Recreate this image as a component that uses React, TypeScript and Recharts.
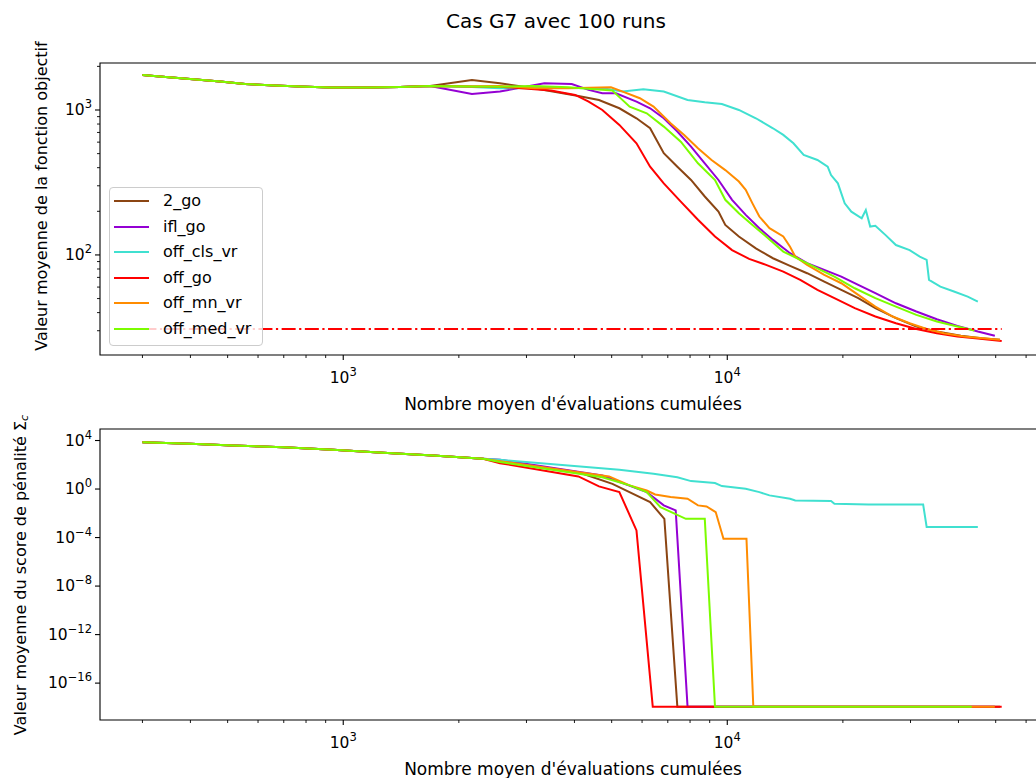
import { LineChart, Line, XAxis, YAxis, Legend, ReferenceArea } from "recharts";

const SERIES_NAMES = ["2_go", "ifl_go", "off_cls_vr", "off_go", "off_mn_vr", "off_med_vr"];
const SERIES_COLORS = ["#8b4513", "#9400d3", "#40e0d0", "#ff0000", "#ff8c00", "#7cfc00"];

// --- objective function (top plot) ---
const EARLY_X = [300, 333, 399, 478, 555, 664, 771, 923, 1174, 1405, 1683];
const EARLY_OBJ = [1742, 1702, 1637, 1573, 1511, 1475, 1452, 1429, 1429, 1442, 1465];

const X_2GO = [2163, 2559, 3140, 4096, 4633, 5236, 5802, 6296, 6834, 7413, 8047, 8738, 9485, 9882, 10720, 11870, 13150, 14570, 16140, 17890, 19810, 21930, 24300, 27490, 31070, 35130, 40570, 45850, 51300];
const OBJ_2GO = [1611, 1528, 1412, 1250, 1173, 1028, 877, 748, 503, 406, 329, 253, 199, 161, 134, 111, 94.9, 84.0, 74.8, 65.5, 57.4, 50.3, 42.9, 36.6, 32.1, 29.6, 27.7, 26.6, 26.0];

const X_IFL = [2163, 2559, 3339, 3936, 4355, 4728, 5130, 5802, 6296, 6834, 7413, 8047, 8738, 9485, 10290, 11170, 12120, 13150, 14570, 16140, 17890, 19810, 21930, 24300, 27490, 31070, 35130, 39740, 44920, 49740];
const OBJ_IFL = [1289, 1340, 1528, 1511, 1376, 1304, 1304, 1143, 1028, 877, 710, 559, 429, 329, 240, 189, 153, 127, 102.8, 87.7, 78.8, 70.9, 62.1, 54.5, 46.4, 40.7, 36.0, 32.4, 29.6, 27.7];

const X_CLS = [2163, 2559, 3140, 3853, 4728, 5343, 6045, 6834, 7881, 8738, 9682, 10720, 11870, 13150, 13990, 14870, 15810, 17170, 18260, 18630, 19410, 20220, 21040, 22390, 22950, 23560, 24300, 25840, 27490, 29840, 31710, 33050, 33520, 35880, 38930, 42270, 44920];
const OBJ_CLS = [1440, 1412, 1420, 1420, 1412, 1340, 1391, 1340, 1173, 1130, 1101, 1001, 877, 748, 673, 589, 490, 452, 406, 356, 312, 227, 199, 179, 204, 157, 159, 137, 117, 108, 97.5, 92.5, 67.3, 60.5, 55.9, 51.6, 47.7];

const X_GO = [2163, 2559, 3477, 4017, 4355, 4728, 5236, 5802, 6296, 6834, 7567, 8389, 9290, 10290, 11400, 12620, 13990, 15490, 17170, 19010, 21480, 24300, 27490, 31070, 35130, 39740, 44920, 51830];
const OBJ_GO = [1452, 1449, 1361, 1270, 1143, 1001, 789, 589, 406, 312, 233, 175, 134, 108, 93.9, 85.4, 76.8, 67.3, 57.4, 50.3, 42.9, 37.6, 33.8, 30.8, 28.8, 27.4, 26.5, 25.5];

const X_MN = [2163, 2559, 3140, 3853, 4979, 5343, 5922, 6427, 7118, 7722, 8389, 9100, 9882, 10720, 11170, 11630, 12120, 12880, 13990, 14570, 15030, 16140, 17890, 19810, 21930, 24300, 26940, 29840, 33050, 36630, 41410, 48720, 51300];
const OBJ_MN = [1452, 1465, 1412, 1412, 1434, 1340, 1205, 1055, 810, 673, 545, 452, 385, 321, 281, 227, 184, 153, 134, 114, 97.5, 85.4, 72.8, 63.8, 53.0, 44.0, 37.6, 33.8, 30.8, 28.8, 27.4, 26.3, 26.0];

const X_MED = [2163, 2559, 3140, 3853, 5023, 5569, 6170, 6834, 7567, 8389, 9290, 9882, 10720, 11630, 12620, 13990, 15490, 17170, 19010, 21480, 24300, 27490, 31070, 35130, 39740, 44000];
const OBJ_MED = [1452, 1449, 1465, 1434, 1361, 1055, 949, 768, 605, 429, 329, 240, 194, 161, 134, 105.5, 92.5, 80.9, 70.9, 58.9, 50.3, 44.0, 38.6, 34.7, 32.1, 30.1];

const REF_X = [300, 51830];
const REF_OBJ = [30.8, 30.8];

// --- penalty score (bottom plot) ---
const EARLY_PEN_X = [300, 399, 516, 698, 940, 1271, 1714, 2312];
const EARLY_PEN = [7240, 5370, 3890, 2820, 1700, 977, 589, 309];

const PX_2GO = [2559, 4096, 5023, 6296, 6858, 7413, 51300];
const PEN_2GO = [200, 24.5, 2.7, 0.083, 3.5e-3, 1.1e-18, 1.1e-18];

const PX_IFL = [2559, 4728, 6170, 6834, 7340, 7881, 49740];
const PEN_IFL = [257, 13.2, 0.56, 0.045, 0.0174, 1.1e-18, 1.1e-18];

const PX_CLS = [2559, 5236, 6427, 7413, 8047, 9290, 9682, 11170, 12120, 12880, 14570, 15030, 18630, 19010, 23330, 32360, 33050, 44920];
const PEN_CLS = [257, 39, 18.2, 9.5, 4.5, 3.1, 1.74, 1.05, 0.56, 0.3, 0.16, 0.115, 0.102, 0.062, 0.054, 0.054, 7.4e-4, 7.4e-4];

const PX_GO = [2559, 4096, 4633, 5236, 5802, 6397, 51830];
const PEN_GO = [136, 10.9, 1.64, 0.56, 3.9e-4, 1.1e-18, 1.1e-18];

const PX_MN = [2559, 4924, 5569, 6170, 6490, 7118, 7881, 8389, 8830, 9330, 9775, 11220, 11690, 49740];
const PEN_MN = [200, 11, 2.0, 0.76, 0.36, 0.22, 0.16, 0.045, 0.037, 0.0126, 8.1e-5, 8.1e-5, 1.1e-18, 1.1e-18];

const PX_MED = [2559, 4728, 5569, 6170, 6700, 7800, 8738, 9290, 43300];
const PEN_MED = [166, 9.5, 2.0, 0.56, 0.032, 3.5e-3, 3.5e-3, 1.1e-18, 1.1e-18];

// axis ranges and ticks
const X_DOMAIN = [232.6, 67600];
const OBJ_DOMAIN = [20.4, 2110];
const PEN_DOMAIN = [9.1e-20, 8.9e4];
const X_TICKS = [300, 400, 500, 600, 700, 800, 900, 1000, 2000, 3000, 4000, 5000, 6000, 7000, 8000, 9000, 10000, 20000, 30000, 40000, 50000, 60000];
const OBJ_TICKS = [30, 40, 50, 60, 70, 80, 90, 100, 200, 300, 400, 500, 600, 700, 800, 900, 1000, 2000];
const PEN_TICKS = [1e-16, 1e-12, 1e-8, 1e-4, 1, 1e4];

const FONT = "DejaVu Sans";

function toPoints(xs: number[], ys: number[]) {
  return xs.map((x, i) => ({ x, y: ys[i] }));
}

const TOP_SERIES = [
  toPoints([...EARLY_X, ...X_2GO], [...EARLY_OBJ, ...OBJ_2GO]),
  toPoints([...EARLY_X, ...X_IFL], [...EARLY_OBJ, ...OBJ_IFL]),
  toPoints([...EARLY_X, ...X_CLS], [...EARLY_OBJ, ...OBJ_CLS]),
  toPoints([...EARLY_X, ...X_GO], [...EARLY_OBJ, ...OBJ_GO]),
  toPoints([...EARLY_X, ...X_MN], [...EARLY_OBJ, ...OBJ_MN]),
  toPoints([...EARLY_X, ...X_MED], [...EARLY_OBJ, ...OBJ_MED]),
];

const BOTTOM_SERIES = [
  toPoints([...EARLY_PEN_X, ...PX_2GO], [...EARLY_PEN, ...PEN_2GO]),
  toPoints([...EARLY_PEN_X, ...PX_IFL], [...EARLY_PEN, ...PEN_IFL]),
  toPoints([...EARLY_PEN_X, ...PX_CLS], [...EARLY_PEN, ...PEN_CLS]),
  toPoints([...EARLY_PEN_X, ...PX_GO], [...EARLY_PEN, ...PEN_GO]),
  toPoints([...EARLY_PEN_X, ...PX_MN], [...EARLY_PEN, ...PEN_MN]),
  toPoints([...EARLY_PEN_X, ...PX_MED], [...EARLY_PEN, ...PEN_MED]),
];

function isMajor(v: number) {
  const l = Math.log10(v);
  return Math.abs(l - Math.round(l)) < 1e-9;
}

function expText(v: number) {
  const e = Math.round(Math.log10(v));
  return e < 0 ? "\u2212" + Math.abs(e) : String(e);
}

function XTick(props: any) {
  const { x, y, payload } = props;
  const major = isMajor(payload.value);
  return (
    <g>
      <line x1={x} x2={x} y1={y} y2={y + (major ? 5 : 3)} stroke="#000" strokeWidth={major ? 1.1 : 0.9} />
      {major && (
        <text x={x} y={y + 28} textAnchor="middle" fontSize={15.5} fontFamily={FONT} fill="#000">
          <tspan>10</tspan>
          <tspan dy={-7} fontSize={11.5}>{expText(payload.value)}</tspan>
        </text>
      )}
    </g>
  );
}

function YTick(props: any) {
  const { x, y, payload } = props;
  const major = isMajor(payload.value);
  return (
    <g>
      <line x1={x - (major ? 5 : 3)} x2={x} y1={y} y2={y} stroke="#000" strokeWidth={major ? 1.1 : 0.9} />
      {major && (
        <text x={x - 8} y={y + 5} textAnchor="end" fontSize={15.5} fontFamily={FONT} fill="#000">
          <tspan>10</tspan>
          <tspan dy={-7} fontSize={11.5}>{expText(payload.value)}</tspan>
        </text>
      )}
    </g>
  );
}

function LegendBox() {
  return (
    <div
      style={{
        width: 154,
        height: 159,
        boxSizing: "border-box",
        border: "1px solid #cccccc",
        borderRadius: 4,
        background: "rgba(255,255,255,0.8)",
        position: "relative",
        fontFamily: FONT,
      }}
    >
      {SERIES_NAMES.map((name, i) => (
        <div
          key={name}
          style={{ position: "absolute", left: 0, top: 13 + 25.6 * i - 12, height: 24, display: "flex", alignItems: "center" }}
        >
          <div style={{ marginLeft: 4, width: 35, height: 2, background: SERIES_COLORS[i] }} />
          <span style={{ marginLeft: 14, fontSize: 16, lineHeight: "24px", color: "#000", whiteSpace: "nowrap" }}>{name}</span>
        </div>
      ))}
    </div>
  );
}

export default function App() {
  return (
    <div style={{ position: "fixed", left: 0, top: 0, width: 1036, height: 778, overflow: "hidden", background: "#fff" }}>
      <div style={{ position: "absolute", left: 0, top: 0 }}>
        <LineChart width={1100} height={400} margin={{ top: 63, right: 54, left: 40, bottom: 0 }}>
          <ReferenceArea x1={X_DOMAIN[0]} x2={X_DOMAIN[1]} y1={OBJ_DOMAIN[0]} y2={OBJ_DOMAIN[1]} fill="none" stroke="#000" strokeWidth={1.1} fillOpacity={0} />
          <XAxis
            dataKey="x"
            type="number"
            scale="log"
            domain={X_DOMAIN}
            allowDataOverflow
            ticks={X_TICKS}
            interval={0}
            height={45}
            axisLine={false}
            tickLine={false}
            tickSize={0}
            tickMargin={0}
            tick={<XTick />}
          />
          <YAxis
            type="number"
            scale="log"
            domain={OBJ_DOMAIN}
            allowDataOverflow
            ticks={OBJ_TICKS}
            interval={0}
            width={60}
            axisLine={false}
            tickLine={false}
            tickSize={0}
            tickMargin={0}
            tick={<YTick />}
          />
          {TOP_SERIES.map((pts, i) => (
            <Line
              key={SERIES_NAMES[i]}
              data={pts}
              dataKey="y"
              type="linear"
              stroke={SERIES_COLORS[i]}
              strokeWidth={2}
              dot={false}
              activeDot={false}
              isAnimationActive={false}
            />
          ))}
          <Line
            data={toPoints(REF_X, REF_OBJ)}
            dataKey="y"
            type="linear"
            stroke="#ff0000"
            strokeWidth={2}
            strokeDasharray="14 3.5 2.2 3.5"
            dot={false}
            activeDot={false}
            isAnimationActive={false}
          />
          <Legend
            layout="vertical"
            align="center"
            verticalAlign="middle"
            wrapperStyle={{ left: 109, top: 187, width: "auto" }}
            content={() => <LegendBox />}
          />
        </LineChart>
      </div>

      <div style={{ position: "absolute", left: 0, top: 400 }}>
        <LineChart width={1100} height={378} margin={{ top: 29, right: 54, left: 40, bottom: 0 }}>
          <ReferenceArea x1={X_DOMAIN[0]} x2={X_DOMAIN[1]} y1={PEN_DOMAIN[0]} y2={PEN_DOMAIN[1]} fill="none" stroke="#000" strokeWidth={1.1} fillOpacity={0} />
          <XAxis
            dataKey="x"
            type="number"
            scale="log"
            domain={X_DOMAIN}
            allowDataOverflow
            ticks={X_TICKS}
            interval={0}
            height={58}
            axisLine={false}
            tickLine={false}
            tickSize={0}
            tickMargin={0}
            tick={<XTick />}
          />
          <YAxis
            type="number"
            scale="log"
            domain={PEN_DOMAIN}
            allowDataOverflow
            ticks={PEN_TICKS}
            interval={0}
            width={60}
            axisLine={false}
            tickLine={false}
            tickSize={0}
            tickMargin={0}
            tick={<YTick />}
          />
          {BOTTOM_SERIES.map((pts, i) => (
            <Line
              key={SERIES_NAMES[i]}
              data={pts}
              dataKey="y"
              type="linear"
              stroke={SERIES_COLORS[i]}
              strokeWidth={2}
              dot={false}
              activeDot={false}
              isAnimationActive={false}
            />
          ))}
        </LineChart>
      </div>

      <svg width={1036} height={778} style={{ position: "absolute", left: 0, top: 0, pointerEvents: "none" }} fontFamily={FONT}>
        <text x={556} y={28} textAnchor="middle" fontSize={20} fill="#000">Cas G7 avec 100 runs</text>
        <text x={573} y={410} textAnchor="middle" fontSize={17} fill="#000">Nombre moyen d'évaluations cumulées</text>
        <text x={573} y={775} textAnchor="middle" fontSize={17} fill="#000">Nombre moyen d'évaluations cumulées</text>
        <text transform="translate(41 196) rotate(-90)" textAnchor="middle" dominantBaseline="central" fontSize={16} fill="#000">
          Valeur moyenne de la fonction objectif
        </text>
        <text transform="translate(20 575) rotate(-90)" textAnchor="middle" dominantBaseline="central" fontSize={16} fill="#000">
          <tspan>Valeur moyenne du score de pénalité Σ</tspan>
          <tspan dy={4} fontSize={11} fontStyle="italic">c</tspan>
        </text>
      </svg>
    </div>
  );
}
